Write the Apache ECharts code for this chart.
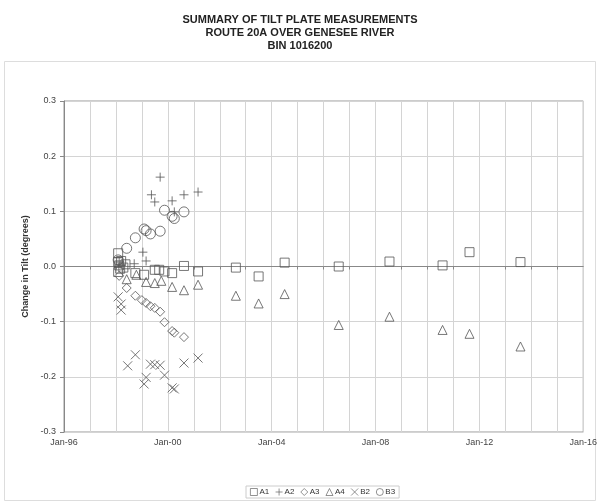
<!DOCTYPE html>
<html>
<head>
<meta charset="utf-8">
<script src="https://cdn.jsdelivr.net/npm/echarts@6/dist/echarts.min.js"></script>
<style>
  html, body { margin: 0; padding: 0; background: #fff; }
  #chart { width: 600px; height: 502px; }
</style>
</head>
<body>
<div id="chart"></div>
<script>
// readings [date, change in tilt (deg)]
var a1 = [
  ['1998-02-01', 0.024], ['1998-02-01', 0.008], ['1998-02-15', 0.002], ['1998-03-01', -0.004],
  ['1998-02-01', -0.010], ['1998-03-15', 0.010], ['1998-04-15', -0.002], ['1998-05-15', 0.004],
  ['1998-10-01', -0.012], ['1999-02-01', -0.015], ['1999-07-01', -0.006], ['1999-09-01', -0.006],
  ['1999-11-15', -0.009], ['2000-03-01', -0.012], ['2000-08-15', 0.001], ['2001-03-01', -0.009],
  ['2002-08-15', -0.002], ['2003-07-01', -0.018], ['2004-07-01', 0.007], ['2006-08-01', 0.000],
  ['2008-07-15', 0.009], ['2010-08-01', 0.002], ['2011-08-15', 0.026], ['2013-08-01', 0.008]
];
var a2 = [
  ['1998-02-15', 0.008], ['1998-09-15', 0.005], ['1999-01-15', 0.026], ['1999-03-01', 0.010],
  ['1999-05-15', 0.130], ['1999-07-01', 0.117], ['1999-09-15', 0.162], ['2000-03-01', 0.119],
  ['2000-04-01', 0.099], ['2000-08-15', 0.130], ['2001-03-01', 0.135]
];
var a3 = [
  ['1998-02-15', -0.017], ['1998-06-01', -0.039], ['1998-10-01', -0.053], ['1999-01-01', -0.061],
  ['1999-03-01', -0.066], ['1999-05-01', -0.072], ['1999-07-01', -0.075], ['1999-09-15', -0.082],
  ['1999-11-15', -0.101], ['2000-03-01', -0.117], ['2000-04-01', -0.120], ['2000-08-15', -0.128]
];
var a4 = [
  ['1998-06-01', -0.023], ['1998-10-15', -0.015], ['1999-03-01', -0.028], ['1999-07-01', -0.030],
  ['1999-10-01', -0.026], ['2000-03-01', -0.037], ['2000-08-15', -0.043], ['2001-03-01', -0.033],
  ['2002-08-15', -0.053], ['2003-07-01', -0.067], ['2004-07-01', -0.050], ['2006-08-01', -0.106],
  ['2008-07-15', -0.091], ['2010-08-01', -0.115], ['2011-08-15', -0.122], ['2013-08-01', -0.145]
];
var b2 = [
  ['1998-02-01', -0.055], ['1998-03-15', -0.068], ['1998-03-15', -0.079], ['1998-06-15', -0.180],
  ['1998-10-01', -0.160], ['1999-02-01', -0.213], ['1999-03-01', -0.201], ['1999-05-01', -0.177],
  ['1999-07-01', -0.178], ['1999-09-15', -0.179], ['1999-11-15', -0.197], ['2000-03-01', -0.220],
  ['2000-04-01', -0.222], ['2000-08-15', -0.175], ['2001-03-01', -0.166]
];
var b3 = [
  ['1998-02-01', 0.012], ['1998-06-01', 0.033], ['1998-10-01', 0.052], ['1999-02-01', 0.068],
  ['1999-03-01', 0.065], ['1999-05-01', 0.059], ['1999-09-15', 0.064], ['1999-11-15', 0.102],
  ['2000-03-01', 0.091], ['2000-04-01', 0.087], ['2000-08-15', 0.099]
];

var yTicks = [-0.3, -0.2, -0.1, 0.0, 0.1, 0.2, 0.3];
var xStart = '1996-01-01', xEnd = '2016-01-01';
var DAY = 86400000;

function toPts(arr) {
  return arr.map(function (d) { return [Date.parse(d[0]), d[1]]; });
}

var ink = '#555';
var font = 'Liberation Sans, Arial, sans-serif';

function mk(name, data, symbol, size) {
  return {
    name: name,
    type: 'scatter',
    data: toPts(data),
    symbol: symbol,
    symbolSize: size,
    itemStyle: { color: 'rgba(0,0,0,0)', borderColor: ink, borderWidth: 1 },
    emphasis: { disabled: true }
  };
}

var chart = echarts.init(document.getElementById('chart'));
chart.setOption({
  animation: false,
  backgroundColor: '#fff',
  title: {
    text: 'SUMMARY OF TILT PLATE MEASUREMENTS\nROUTE 20A OVER GENESEE RIVER\nBIN 1016200',
    left: 'center', top: 8,
    textStyle: { fontFamily: font, fontSize: 11, fontWeight: 'bold', color: '#222', lineHeight: 13 }
  },
  graphic: [{
    type: 'rect', shape: { x: 4.5, y: 61.5, width: 591, height: 439 },
    style: { fill: 'none', stroke: '#ddd', lineWidth: 1 }, silent: true, z: -1
  }],
  legend: {
    bottom: 4, left: 246,
    itemWidth: 7, itemHeight: 7, itemGap: 6,
    padding: [2, 4],
    borderColor: '#ccc', borderWidth: 1,
    itemStyle: { borderWidth: 0.8 },
    textStyle: { fontFamily: font, fontSize: 8, color: '#333', padding: [0, 0, 0, -3] },
    data: ['A1', 'A2', 'A3', 'A4', 'B2', 'B3']
  },
  grid: { left: 64, right: 15, top: 101, bottom: 70, show: true, borderColor: '#999', borderWidth: 1 },
  xAxis: {
    type: 'value',
    min: Date.parse(xStart), max: Date.parse(xEnd),
    interval: 1461 * DAY,
    axisLine: { show: true, lineStyle: { color: '#888' } },
    axisTick: { show: false },
    minorTick: { show: true, splitNumber: 4, length: 3, lineStyle: { color: '#888' } },
    splitLine: { show: true, lineStyle: { color: '#d4d4d4' } },
    minorSplitLine: { show: true, lineStyle: { color: '#d4d4d4' } },
    axisLabel: {
      fontFamily: font, fontSize: 9, color: '#444', margin: 6,
      formatter: function (v) {
        var y = new Date(v + 10 * DAY).getUTCFullYear() % 100;
        return 'Jan-' + (y < 10 ? '0' : '') + y;
      }
    }
  },
  yAxis: {
    type: 'value',
    min: yTicks[0], max: yTicks[yTicks.length - 1], interval: 0.1,
    name: 'Change in Tilt (degrees)',
    nameLocation: 'middle', nameGap: 24,
    nameTextStyle: { fontFamily: font, fontSize: 9, fontWeight: 'bold', color: '#333' },
    axisLine: { show: true, lineStyle: { color: '#888' } },
    axisTick: { show: true, inside: false, length: 4, lineStyle: { color: '#888' } },
    splitLine: { show: true, lineStyle: { color: '#d4d4d4' } },
    axisLabel: {
      fontFamily: font, fontSize: 9, color: '#444', margin: 8,
      formatter: function (v) { return v.toFixed(1); }
    }
  },
  series: [
    mk('A1', a1, 'rect', 9),
    mk('A2', a2, 'path://M0,5L10,5M5,0L5,10', 9),
    mk('A3', a3, 'diamond', 9),
    mk('A4', a4, 'triangle', 9),
    mk('B2', b2, 'path://M0,0L10,10M10,0L0,10', 9),
    mk('B3', b3, 'circle', 10)
  ]
});
</script>
</body>
</html>
